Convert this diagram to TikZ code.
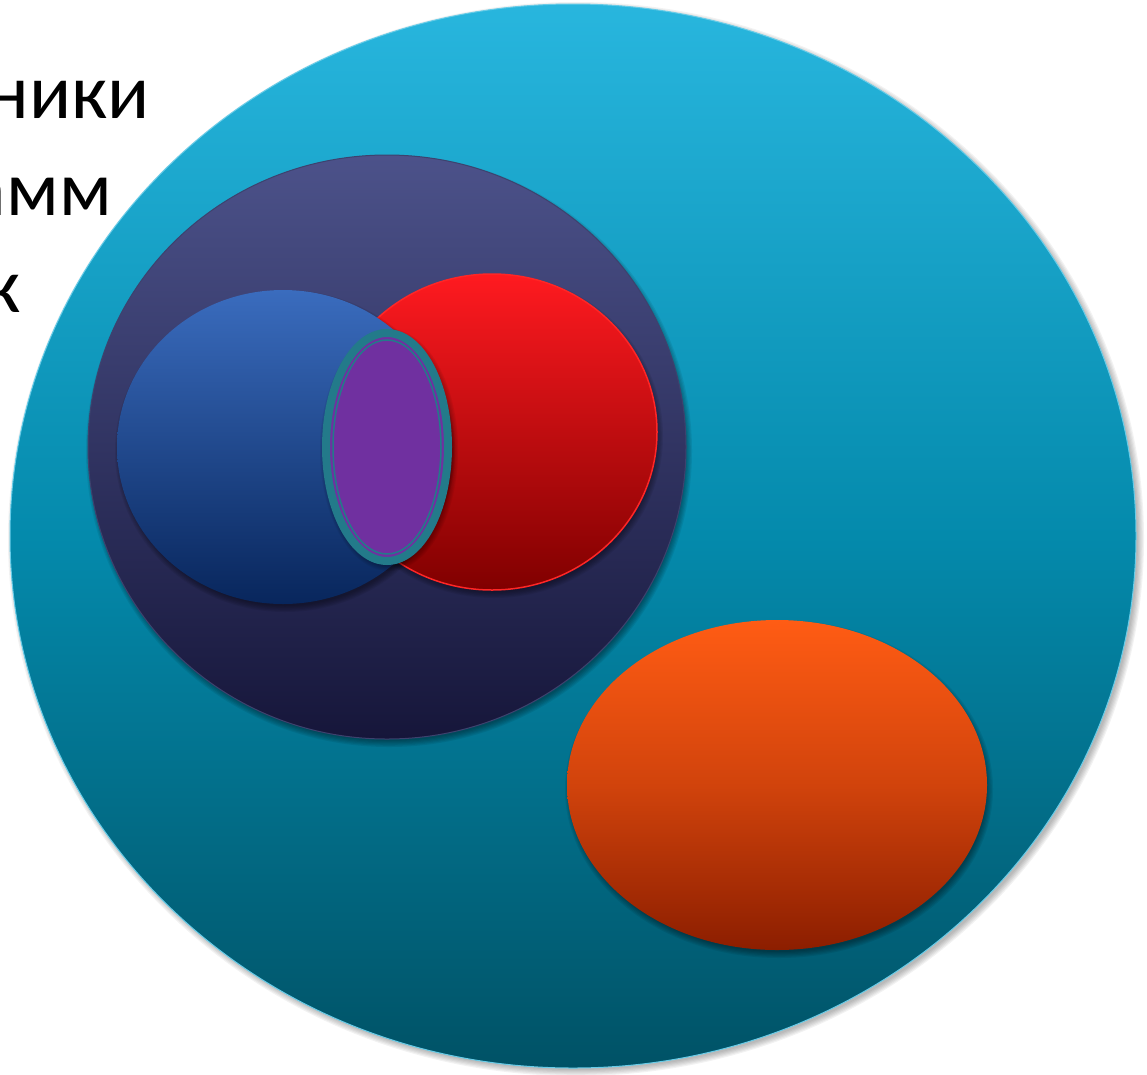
\documentclass[tikz,border=0pt]{standalone}
\usepackage{fontspec}
\setmainfont{Carlito}
\definecolor{bigtop}{RGB}{40,182,222}
\definecolor{bigmid}{RGB}{4,138,172}
\definecolor{bigbot}{RGB}{0,82,102}
\definecolor{darktop}{RGB}{76,82,138}
\definecolor{darkbot}{RGB}{22,22,58}
\definecolor{bluetop}{RGB}{58,108,190}
\definecolor{bluebot}{RGB}{8,38,92}
\definecolor{redtop}{RGB}{255,26,32}
\definecolor{redbot}{RGB}{128,0,0}
\definecolor{orgtop}{RGB}{255,92,20}
\definecolor{orgbot}{RGB}{140,30,0}
\definecolor{lensfill}{RGB}{112,48,160}
\definecolor{lensline}{RGB}{35,122,138}
\tikzset{
  lbl/.style={font=\fontsize{78}{78}\selectfont,anchor=base east,inner sep=0pt,text=black}
}
\newcommand{\softshade}[5]{% cx cy rx ry opacity
  \foreach \k in {0,...,5}{
    \fill[black,opacity=#5] (#1,#2) ellipse [x radius={#3+\k*1.2}, y radius={#4+\k*1.2}];
  }
}
\begin{document}
\begin{tikzpicture}[x=1pt,y=-1pt]
\useasboundingbox (0,0) rectangle (1147,1074);
\clip (0,0) rectangle (1147,1074);
% text behind the big circle
\node[lbl] (t1) at (150,118) {ники};
\node[lbl] (t2) at (112,215) {амм};
\node[lbl] (t3) at (21,312) {к};
% big ellipse
\softshade{576}{539}{562}{531}{0.05}
\path[top color=bigtop,bottom color=bigbot,middle color=bigmid,draw=bigtop!70!white,line width=1pt]
  (573,536) ellipse [x radius=563, y radius=532];
\node[coordinate] (big) at (573,536) {};
% dark ellipse
\softshade{389}{451}{297}{290}{0.07}
\path[top color=darktop,bottom color=darkbot,draw=darktop!80!black,line width=1pt]
  (387,447) ellipse [x radius=299, y radius=292];
\node[coordinate] (dark) at (387,447) {};
% red ellipse
\softshade{494}{436}{163}{156}{0.07}
\path[top color=redtop,bottom color=redbot,draw=red!85!white,line width=1.5pt]
  (492,432) ellipse [x radius=165, y radius=158];
\node[coordinate] (red) at (492,432) {};
% blue ellipse
\softshade{285}{451}{164}{155}{0.07}
\path[top color=bluetop,bottom color=bluebot]
  (283,447) ellipse [x radius=166, y radius=157];
\node[coordinate] (blue) at (283,447) {};
% lens
\softshade{389}{450}{63}{115}{0.06}
\path[fill=lensfill,draw=lensline,line width=8pt]
  (387,447) ellipse [x radius=61, y radius=114];
\draw[lensline,line width=1.5pt] (387,447) ellipse [x radius=54, y radius=107];
\node[coordinate] (lens) at (387,447) {};
% orange ellipse
\softshade{779}{789}{208}{163}{0.07}
\path[top color=orgtop,bottom color=orgbot,middle color=orgtop!60!orgbot]
  (777,785) ellipse [x radius=210, y radius=165];
\node[coordinate] (org) at (777,785) {};
\end{tikzpicture}
\end{document}
